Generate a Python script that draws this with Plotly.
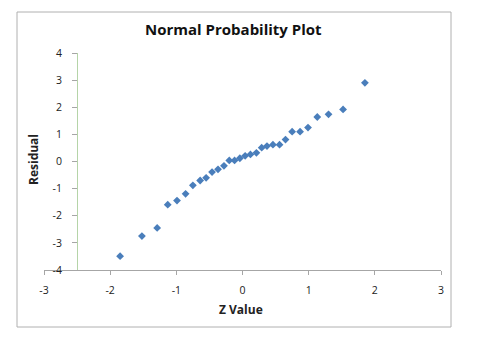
import plotly.graph_objects as go

z_values = [-1.85, -1.52, -1.29, -1.13, -0.99, -0.86, -0.75, -0.64, -0.55, -0.46,
            -0.37, -0.28, -0.20, -0.12, -0.04, 0.04, 0.12, 0.21, 0.29, 0.37,
            0.46, 0.56, 0.65, 0.75, 0.87, 0.99, 1.13, 1.30, 1.52, 1.85]
residuals = [-3.49, -2.75, -2.45, -1.59, -1.44, -1.19, -0.88, -0.70, -0.60, -0.39,
             -0.29, -0.16, 0.04, 0.04, 0.12, 0.21, 0.26, 0.32, 0.51, 0.57,
             0.62, 0.62, 0.81, 1.10, 1.10, 1.25, 1.64, 1.74, 1.92, 2.90]
x_ticks = [-3, -2, -1, 0, 1, 2, 3]
y_ticks = [-4, -3, -2, -1, 0, 1, 2, 3, 4]

W, H = 478, 352
ML, MR, MT, MB = 44, 37, 53, 82
PW, PH = W - ML - MR, H - MT - MB

def px_x(p):
    return (p - ML) / PW

def px_y(p):
    return (H - MB - p) / PH

font_family = "Open Sans, Liberation Sans, sans-serif"

fig = go.Figure()
fig.add_trace(go.Scatter(
    x=z_values, y=residuals, mode="markers",
    marker=dict(symbol="diamond", size=6, color="#4a7ebb"),
    showlegend=False,
))

fig.update_layout(
    width=W, height=H,
    margin=dict(l=ML, r=MR, t=MT, b=MB),
    paper_bgcolor="white", plot_bgcolor="white",
    font=dict(family=font_family, size=10, color="#222222"),
    xaxis=dict(
        range=[-3, 3], tickvals=x_ticks, ticktext=[str(v) for v in x_ticks],
        showgrid=False, zeroline=False,
        showline=True, linecolor="#a6a6a6", linewidth=1,
        ticks="outside", ticklen=4, tickcolor="#a6a6a6",
        ticklabelstandoff=6,
        tickfont=dict(size=10.5), fixedrange=True,
    ),
    yaxis=dict(
        range=[-4, 4], tickvals=y_ticks, ticktext=[str(v) for v in y_ticks],
        anchor="free", position=0.5 / 6,
        showgrid=False, zeroline=False,
        showline=True, linecolor="#b5d4a8", linewidth=1,
        ticks="outside", ticklen=5, tickcolor="#a6a6a6",
        ticklabelstandoff=8,
        tickfont=dict(size=10.5), fixedrange=True,
    ),
    shapes=[dict(
        type="rect", xref="paper", yref="paper",
        x0=px_x(17), x1=px_x(451), y0=px_y(327), y1=px_y(12),
        line=dict(color="#b0b0b0", width=1), layer="below",
    )],
    annotations=[
        dict(text="<b>Normal Probability Plot</b>", xref="paper", yref="paper",
             x=px_x(233), y=px_y(29), showarrow=False,
             font=dict(size=15, color="#111111"), xanchor="center", yanchor="middle"),
        dict(text="<b>Z Value</b>", xref="paper", yref="paper",
             x=px_x(241), y=px_y(309), showarrow=False,
             font=dict(size=12, color="#222222"), xanchor="center", yanchor="middle"),
        dict(text="<b>Residual</b>", xref="paper", yref="paper",
             x=px_x(33), y=px_y(160), showarrow=False, textangle=-90,
             font=dict(size=12, color="#222222"), xanchor="center", yanchor="middle"),
    ],
)

fig.write_html("out.html")
